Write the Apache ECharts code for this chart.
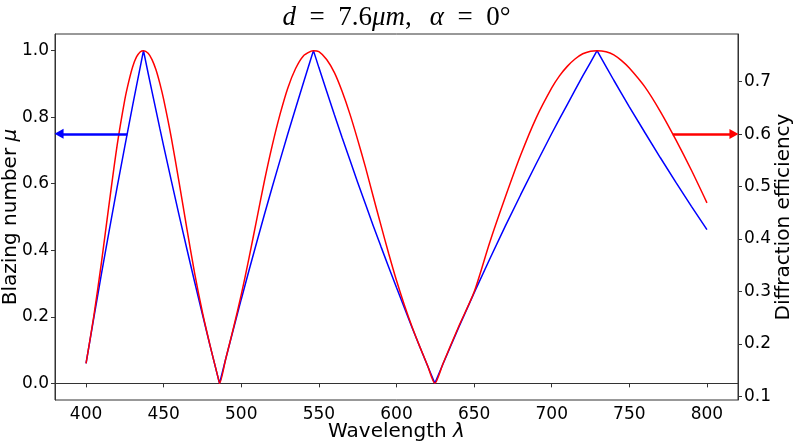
<!DOCTYPE html>
<html>
<head>
<meta charset="utf-8">
<script src="https://cdn.jsdelivr.net/npm/echarts@6/dist/echarts.min.js"></script>
<style>
html,body{margin:0;padding:0;background:#fff;}
#chart{width:793px;height:444px;}
</style>
</head>
<body>
<div id="chart"></div>
<script>
// Wavelength samples (nm)
const lambda = [400,405,410,415,420,425,427.5,430,432.5,435,437,440,442.5,445,447.5,450,455,460,465,470,475,480,485,486,
  490,495,500,505,510,515,520,525,530,535,540,545,546.5,550,555,560,565,570,575,580,585,590,595,600,605,610,615,620,624.7,
  630,640,650,660,670,680,690,700,705,710,715,720,725,729.2,735,740,745,750,760,770,780,790,800];
// Blazing number mu (left axis)
const mu = [0.06,0.197,0.331,0.461,0.589,0.713,0.774,0.835,0.894,0.953,1.0,0.932,0.877,0.822,0.767,0.713,0.608,0.504,0.403,0.304,0.207,0.111,0.018,0.0,
  0.074,0.164,0.253,0.340,0.425,0.509,0.591,0.671,0.750,0.827,0.903,0.978,1.0,0.949,0.878,0.807,0.738,0.671,0.604,0.539,0.474,0.411,0.349,0.288,0.228,0.168,0.110,0.053,0.0,
  0.059,0.167,0.272,0.373,0.472,0.567,0.660,0.751,0.795,0.838,0.881,0.924,0.965,1.0,0.952,0.911,0.871,0.831,0.754,0.678,0.604,0.532,0.462];
// Diffraction efficiency (right axis)
const eff = [0.163,0.253,0.357,0.470,0.578,0.666,0.700,0.728,0.747,0.757,0.759,0.754,0.742,0.723,0.697,0.666,0.592,0.507,0.419,0.334,0.260,0.196,0.137,0.125,
  0.172,0.231,0.294,0.364,0.438,0.512,0.579,0.638,0.688,0.725,0.749,0.758,0.759,0.757,0.742,0.717,0.681,0.638,0.589,0.537,0.481,0.426,0.372,0.321,0.275,0.233,0.195,0.159,0.125,
  0.163,0.233,0.299,0.393,0.479,0.560,0.631,0.688,0.711,0.729,0.743,0.753,0.758,0.759,0.757,0.751,0.740,0.726,0.690,0.643,0.589,0.531,0.469];

const xTicks = [400,450,500,550,600,650,700,750,800];
const leftTicks = [0,0.2,0.4,0.6,0.8,1.0];
const rightTicks = [0.1,0.2,0.3,0.4,0.5,0.6,0.7];

// Annotation arrows: [startX, endX, y]
const blueArrow = [426.6, 382.6, 0.75];
const redArrow = [778.0, 817.4, 0.6];

const chart = echarts.init(document.getElementById('chart'), null, {renderer:'canvas'});
const sans = 'DejaVu Sans';
const axisCol = '#333';

const option = {
  animation: false,
  backgroundColor: '#fff',
  title: {
    text: '{i|d}\u2002=\u20027.6{i|μm},\u2002\u2006{i|α}\u2002=\u20020°',
    left: 'center',
    top: -1,
    textStyle: {
      fontFamily: 'Liberation Serif',
      fontSize: 27,
      fontWeight: 'normal',
      color: '#000',
      rich: { i: { fontFamily: 'Liberation Serif', fontStyle: 'italic', fontSize: 27, color: '#000' } }
    }
  },
  grid: { left: 55, right: 55, top: 34, bottom: 44, show: true, borderColor: axisCol, borderWidth: 1,
    containLabel: false, outerBoundsMode: 'none' },
  xAxis: {
    type: 'value', min: 380, max: 820,
    axisLine: { show: true, lineStyle: { color: axisCol, width: 1 } },
    axisTick: { show: true, customValues: xTicks, length: 4, lineStyle: { color: axisCol } },
    axisLabel: { customValues: xTicks, fontFamily: sans, fontSize: 17, color: '#000', margin: 6 },
    splitLine: { show: false },
    name: 'Wavelength {i|λ}', nameLocation: 'middle', nameGap: 22, nameMoveOverlap: false,
    nameTextStyle: { fontFamily: sans, fontSize: 20, color: '#000',
      rich: { i: { fontFamily: sans, fontStyle: 'italic', fontSize: 20, color: '#000' } } }
  },
  yAxis: [
    {
      type: 'value', min: -0.05, max: 1.05, position: 'left',
      axisLine: { show: true, lineStyle: { color: axisCol, width: 1 } },
      axisTick: { show: true, customValues: leftTicks, length: 4, lineStyle: { color: axisCol } },
      axisLabel: { customValues: leftTicks, fontFamily: sans, fontSize: 17, color: '#000', margin: 6,
        formatter: v => v.toFixed(1) },
      splitLine: { show: false },
      name: 'Blazing number {i|μ}', nameLocation: 'middle', nameGap: 34, nameMoveOverlap: false,
      nameTextStyle: { fontFamily: sans, fontSize: 20, color: '#000',
        rich: { i: { fontFamily: sans, fontStyle: 'italic', fontSize: 20, color: '#000' } } }
    },
    {
      type: 'value', min: 0.0933, max: 0.7907, position: 'right',
      axisLine: { show: true, lineStyle: { color: axisCol, width: 1 } },
      axisTick: { show: true, customValues: rightTicks, length: 4, lineStyle: { color: axisCol } },
      axisLabel: { customValues: rightTicks, fontFamily: sans, fontSize: 17, color: '#000', margin: 6,
        formatter: v => v.toFixed(1) },
      splitLine: { show: false },
      name: 'Diffraction efficiency', nameLocation: 'middle', nameGap: 36, nameMoveOverlap: false,
      nameTextStyle: { fontFamily: sans, fontSize: 20, color: '#000' }
    }
  ],
  series: [
    {
      type: 'line', name: 'mu', yAxisIndex: 0,
      data: lambda.map((x, i) => [x, mu[i]]),
      showSymbol: false, symbol: 'none',
      lineStyle: { color: '#0000ff', width: 1.5 },
      markLine: {
        silent: true, animation: false,
        symbol: ['none', 'triangle'], symbolSize: [10, 9],
        label: { show: false },
        lineStyle: { color: '#0000ff', width: 2.5, type: 'solid' },
        data: [[{ coord: [blueArrow[0], blueArrow[2]] }, { coord: [blueArrow[1], blueArrow[2]] }]]
      }
    },
    {
      type: 'line', name: 'eff', yAxisIndex: 1,
      data: lambda.map((x, i) => [x, eff[i]]),
      showSymbol: false, symbol: 'none', smooth: 0.25,
      lineStyle: { color: '#ff0000', width: 1.5 },
      markLine: {
        silent: true, animation: false,
        symbol: ['none', 'triangle'], symbolSize: [10, 9],
        label: { show: false },
        lineStyle: { color: '#ff0000', width: 2.5, type: 'solid' },
        data: [[{ coord: [redArrow[0], redArrow[2]] }, { coord: [redArrow[1], redArrow[2]] }]]
      }
    }
  ]
};
chart.setOption(option);
</script>
</body>
</html>
